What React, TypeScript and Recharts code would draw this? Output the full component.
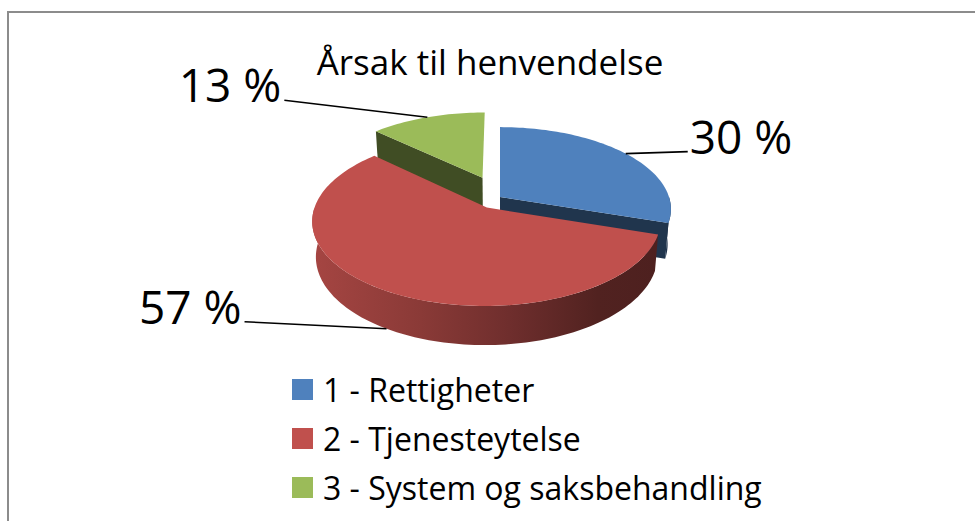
import React from "react";
import { PieChart, Pie, Legend } from "recharts";

// chart values
const categories = ["1 - Rettigheter", "2 - Tjenesteytelse", "3 - System og saksbehandling"];
const shares = [30, 57, 13];
const title = "Årsak til henvendelse";

// styling
const topColors = ["#4F81BD", "#C0504D", "#9BBB59"];
const explode = [0, 0.15, 0.27];
const labelOffsets = [
  [62, -2],
  [-142, -7],
  [-143, -17],
];
const FONT = "'Open Sans', Lato, sans-serif";

const data = categories.map((name, i) => ({ name, value: shares[i] }));

// fake 3D camera for the pie
const RAD = Math.PI / 180;
const DIST = 5.92;
const SIN = 0.475;
const COS = 0.88;
const DEPTH = 0.238;

type Pt = [number, number];

function project(cx: number, cy: number, r: number, u: number, v: number, h: number): Pt {
  const yc = v * SIN + h * COS;
  const zc = DIST - v * COS + h * SIN;
  return [cx + (r * DIST * u) / zc, cy + (r * DIST * yc) / zc];
}

function shade(hex: string, k: number) {
  const n = parseInt(hex.slice(1), 16);
  const c = [(n >> 16) & 255, (n >> 8) & 255, n & 255].map((x) => Math.round(x * k));
  return `rgb(${c[0]},${c[1]},${c[2]})`;
}

function geom(p: any) {
  const t1 = 90 - p.startAngle;
  const t2 = 90 - p.endAngle;
  const tm = (t1 + t2) / 2;
  const e = explode[p.index] ?? 0;
  const ou = e * Math.sin(tm * RAD);
  const ov = -e * Math.cos(tm * RAD);
  const pt = (t: number, h: number): Pt =>
    project(p.cx, p.cy, p.outerRadius, ou + Math.sin(t * RAD), ov - Math.cos(t * RAD), h);
  const center = (h: number): Pt => project(p.cx, p.cy, p.outerRadius, ou, ov, h);
  return { t1, t2, tm, ou, ov, pt, center };
}

function arc(pt: (t: number, h: number) => Pt, ta: number, tb: number, h: number) {
  const n = Math.max(2, Math.ceil(Math.abs(tb - ta) / 1.5));
  const out: Pt[] = [];
  for (let i = 0; i <= n; i++) out.push(pt(ta + ((tb - ta) * i) / n, h));
  return out;
}

const toPath = (pts: Pt[]) =>
  "M" + pts.map(([x, y]) => `${x.toFixed(2)},${y.toFixed(2)}`).join("L") + "Z";

const renderWalls = (p: any) => {
  const g = geom(p);
  const i = p.index;
  const base = topColors[i];
  const gid = `side-${i}`;
  const parts: React.ReactNode[] = [];
  const a = Math.max(g.t1, 90);
  const b = Math.min(g.t2, 270);
  if (b > a) {
    const pts = [...arc(g.pt, a, b, 0), ...arc(g.pt, b, a, DEPTH)];
    parts.push(<path key="outer" d={toPath(pts)} fill={`url(#${gid})`} />);
  }
  const face = (t: number, key: string) => (
    <path
      key={key}
      d={toPath([g.center(0), g.pt(t, 0), g.pt(t, DEPTH), g.center(DEPTH)])}
      fill={shade(base, 0.41)}
    />
  );
  if (Math.sin(g.t1 * RAD) < -1e-6) parts.push(face(g.t1, "start"));
  if (Math.sin(g.t2 * RAD) > 1e-6) parts.push(face(g.t2, "end"));
  return (
    <g key={`walls-${i}`}>
      <defs>
        <linearGradient
          id={gid}
          gradientUnits="userSpaceOnUse"
          x1={p.cx - p.outerRadius * 1.1}
          x2={p.cx + p.outerRadius}
          y1={0}
          y2={0}
        >
          <stop offset="0%" stopColor={shade(base, 0.86)} />
          <stop offset="30%" stopColor={shade(base, 0.72)} />
          <stop offset="55%" stopColor={shade(base, 0.58)} />
          <stop offset="80%" stopColor={shade(base, 0.42)} />
          <stop offset="100%" stopColor={shade(base, 0.4)} />
        </linearGradient>
      </defs>
      {parts}
    </g>
  );
};

const renderTop = (p: any) => {
  const g = geom(p);
  const pts = [g.center(0), ...arc(g.pt, g.t1, g.t2, 0)];
  return <path key={`top-${p.index}`} d={toPath(pts)} fill={topColors[p.index]} />;
};

const renderLabel = (p: any) => {
  const g = geom(p);
  const v = g.ov - Math.cos(g.tm * RAD);
  const [ax, ay] = g.pt(g.tm, v > 0 ? DEPTH : 0);
  const [dx, dy] = labelOffsets[p.index];
  const ex = ax + dx;
  const ey = ay + dy;
  const right = dx > 0;
  return (
    <g key={`lbl-${p.index}`}>
      <line x1={ax} y1={ay} x2={ex} y2={ey} stroke="#000" strokeWidth={1.6} />
      <text
        x={right ? ex + 2 : ex - 3}
        y={ey + 2}
        textAnchor={right ? "start" : "end"}
        fontFamily={FONT}
        fontSize={46}
        fill="#000"
      >
        {`${Math.round(p.percent * 100)} %`}
      </text>
    </g>
  );
};

const renderLegend = () => (
  <div style={{ fontFamily: FONT, fontSize: 32, color: "#000" }}>
    {categories.map((c, i) => (
      <div key={c} style={{ display: "flex", alignItems: "center", height: 49, lineHeight: "49px" }}>
        <span style={{ width: 21, height: 21, background: topColors[i], marginRight: 10, flex: "none" }} />
        <span style={{ whiteSpace: "nowrap" }}>{c}</span>
      </div>
    ))}
  </div>
);

const pieProps = {
  data,
  dataKey: "value",
  nameKey: "name",
  cx: 500,
  cy: 197,
  outerRadius: 169,
  startAngle: 90,
  endAngle: -270,
  fill: "none",
  stroke: "none",
  labelLine: false,
  isAnimationActive: false,
  legendType: "none" as const,
};

export default function App() {
  return (
    <div style={{ position: "relative", width: 975, height: 521, overflow: "hidden", background: "#fff" }}>
      <style>{"body{margin:0;overflow:hidden}"}</style>
      <div
        style={{
          position: "absolute",
          left: 7,
          top: 11,
          width: 1000,
          height: 600,
          border: "2px solid #8c8c8c",
        }}
      />
      <div style={{ position: "absolute", left: 0, top: 0 }}>
        <PieChart width={975} height={521} margin={{ top: 0, right: 0, bottom: 0, left: 0 }}>
          <text x={490} y={75} textAnchor="middle" fontFamily={FONT} fontSize={35} fill="#000">
            {title}
          </text>
          <Pie {...pieProps} label={renderWalls} />
          <Pie {...pieProps} label={renderTop} />
          <Pie {...pieProps} label={renderLabel} />
          <Legend content={renderLegend} wrapperStyle={{ left: 292, top: 365, width: 600 }} />
        </PieChart>
      </div>
    </div>
  );
}
